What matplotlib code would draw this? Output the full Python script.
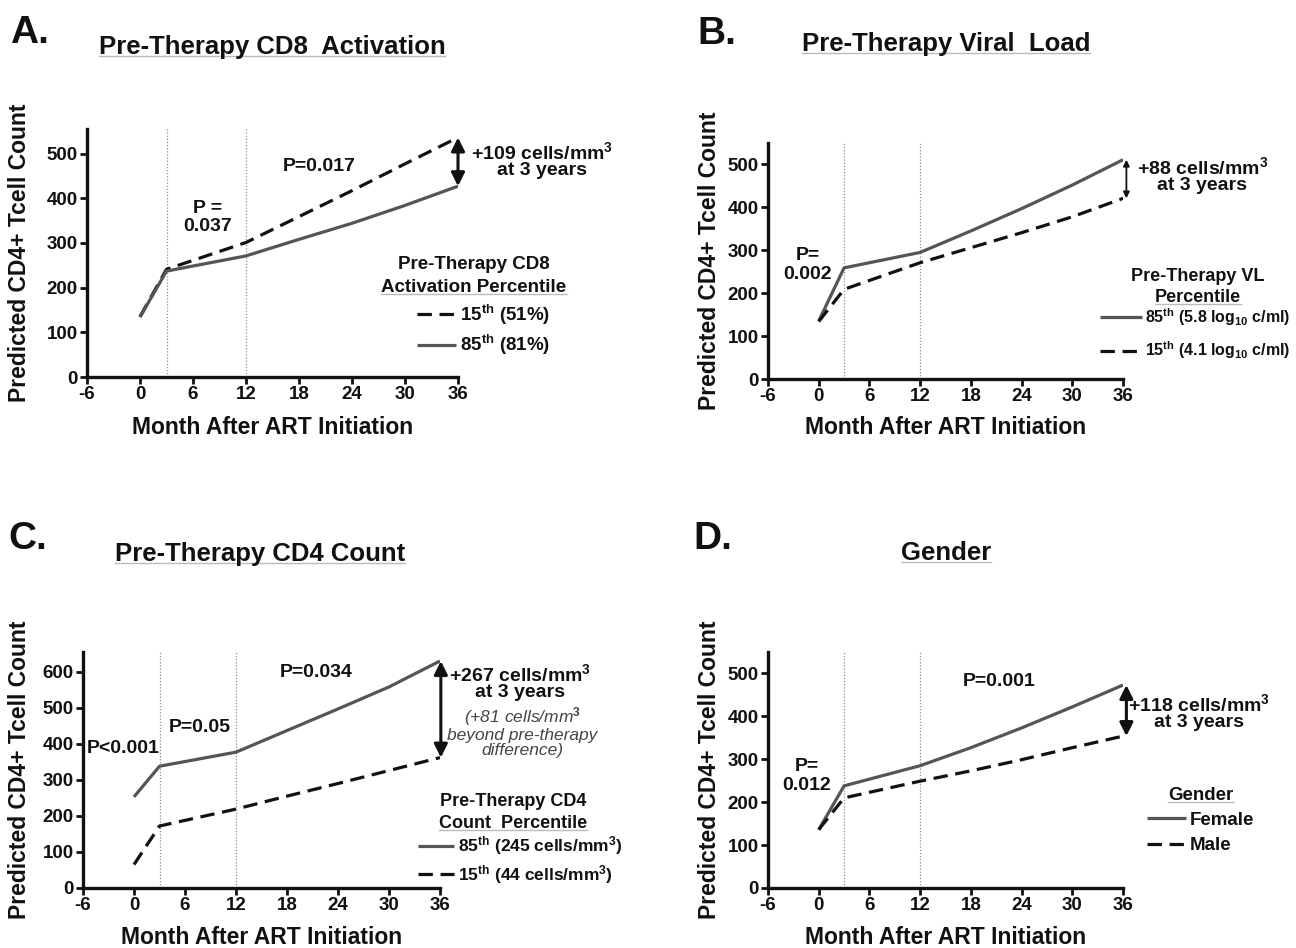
import matplotlib
matplotlib.use("Agg")
import matplotlib.pyplot as plt
from matplotlib.lines import Line2D

FONT = 'Liberation Sans'
plt.rcParams['font.family'] = [FONT, 'DejaVu Sans']
plt.rcParams['font.weight'] = 'bold'
plt.rcParams['mathtext.fontset'] = 'custom'
plt.rcParams['mathtext.rm'] = FONT + ':bold'
plt.rcParams['mathtext.bf'] = FONT + ':bold'
plt.rcParams['mathtext.it'] = FONT + ':italic'

# ---------------- data ----------------
months = [0, 3, 12, 18, 24, 30, 36]
xticks = [-6, 0, 6, 12, 18, 24, 30, 36]

A_p15 = [135, 241, 301, 359, 417, 477, 536]
A_p85 = [134, 237, 271, 308, 344, 384, 427]

B_p85 = [135, 259, 295, 345, 397, 452, 511]
B_p15 = [134, 209, 271, 306, 341, 378, 421]

C_p85 = [253, 338, 377, 437, 497, 558, 630]
C_p15 = [65, 172, 219, 255, 290, 326, 362]

D_female = [136, 238, 285, 327, 373, 422, 473]
D_male = [136, 210, 249, 273, 299, 327, 354]

W, H = 1296, 948
fig = plt.figure(figsize=(W / 100, H / 100), dpi=100)
fig.patch.set_facecolor('white')

SOLID = dict(color='#555555', lw=2.3, linestyle='-', solid_capstyle='butt')
DASH = dict(color='#111111', lw=2.3, linestyle=(0, (4.5, 2.4)), dash_capstyle='butt')

S_TICK = 13.5
S_LAB = 16.5
S_TITLE = 18.5
S_LET = 28
S_ANN = 14
S_LEG = 13.5
INK = '#111111'


def fx(px):
    return px / W


def fy(py):
    return 1 - py / H


def make_axes(l, b, r, t, ytop, yticks):
    ax = fig.add_axes([fx(l), fy(b), (r - l) / W, (b - t) / H])
    ax.set_xlim(-6, 36)
    ax.set_ylim(0, ytop)
    ax.set_xticks(xticks)
    ax.set_yticks(yticks)
    ax.set_xticklabels([str(v) for v in xticks])
    ax.set_yticklabels([str(v) for v in yticks])
    for s in ['top', 'right']:
        ax.spines[s].set_visible(False)
    for s in ['left', 'bottom']:
        ax.spines[s].set_linewidth(2.4)
        ax.spines[s].set_color(INK)
    ax.tick_params(direction='out', length=5, width=2, labelsize=S_TICK, pad=1.5, colors=INK)
    for lab in ax.get_xticklabels() + ax.get_yticklabels():
        lab.set_fontweight('bold')
    ax.set_facecolor('none')
    for xv in (3, 12):
        ax.axvline(xv, color='#a08878', lw=0.9, linestyle=(0, (1, 1.5)), zorder=1)
    return ax


underlines = []


def ftext(x, y, s, size, va='baseline', ul=False, **kw):
    t = fig.text(fx(x), fy(y), s, ha='center', va=va, fontsize=size,
                 fontweight='bold', color=INK, **kw)
    if ul:
        underlines.append(t)
    return t


def panel(letter, lpos, title, tpos, rect, ytop, yticks, ylab_x, xlab_y):
    l, b, r, t = rect
    ax = make_axes(l, b, r, t, ytop, yticks)
    fig.text(fx(lpos[0]), fy(lpos[1]), letter, ha='left', va='baseline', fontsize=S_LET,
             fontweight='bold', color=INK)
    ftext(tpos[0], tpos[1], title, S_TITLE, ul=True)
    fig.text(fx(ylab_x), fy((b + t) / 2), 'Predicted CD4+ Tcell Count', rotation=90,
             ha='center', va='center', fontsize=S_LAB, fontweight='bold', color=INK)
    fig.text(fx((l + r) / 2), fy(xlab_y), 'Month After ART Initiation', ha='center',
             va='center', fontsize=S_LAB, fontweight='bold', color=INK)
    return ax


def arrow(ax, x, y0, y1, lw=2.0, ms=16):
    ax.annotate('', xy=(x, y1), xytext=(x, y0),
                arrowprops=dict(arrowstyle='<|-|>', lw=lw, color=INK,
                                mutation_scale=ms, shrinkA=0, shrinkB=0),
                annotation_clip=False)


def txt(ax, x, y, s, size=S_ANN, **kw):
    kw.setdefault('ha', 'center')
    kw.setdefault('va', 'center')
    kw.setdefault('fontweight', 'bold')
    kw.setdefault('color', INK)
    return ax.text(x, y, s, fontsize=size, clip_on=False, **kw)


def legend(ax, handles, labels, title_lines, title_cx, title_ys, left_px, entry_ys,
           size=S_LEG, tsize=None, spacing=0.4, hl=2.1):
    tsize = tsize or size
    for i, (line, yy) in enumerate(zip(title_lines, title_ys)):
        ftext(title_cx, yy, line, tsize, va='baseline', ul=(i == len(title_lines) - 1))
    lg = ax.legend(handles, labels, frameon=False, fontsize=size,
                   loc='center left',
                   bbox_to_anchor=(fx(left_px), fy(sum(entry_ys) / len(entry_ys))),
                   bbox_transform=fig.transFigure, handlelength=hl, handletextpad=0.2,
                   labelspacing=spacing, borderpad=0, borderaxespad=0)
    for tx in lg.get_texts():
        tx.set_fontweight('bold')
        tx.set_color(INK)
    return lg


TH = r'$^{\mathbf{th}}$'

# ---------------- Panel A ----------------
axA = panel('A.', (10, 43), 'Pre-Therapy CD8  Activation', (272, 54),
            (87, 377, 458, 129), 555, [0, 100, 200, 300, 400, 500], 20, 428)
hA1, = axA.plot(months, A_p15, **DASH)
hA2, = axA.plot(months, A_p85, **SOLID)
arrow(axA, 36, A_p85[-1], A_p15[-1], lw=2.2, ms=20)
txt(axA, 20.3, 472, 'P=0.017')
txt(axA, 7.6, 357, 'P =\n0.037', linespacing=1.15)
txt(axA, 45.5, 486, '+109 cells/mm$^{3}$\nat 3 years', linespacing=0.92)
legend(axA, [hA1, hA2], ['15' + TH + ' (51%)', '85' + TH + ' (81%)'],
       ['Pre-Therapy CD8', 'Activation Percentile'], 474, [269, 292], 417, [316, 344],
       spacing=0.35)

# ---------------- Panel B ----------------
axB = panel('B.', (697, 44), 'Pre-Therapy Viral  Load', (946, 51),
            (768, 379, 1123, 143), 550, [0, 100, 200, 300, 400, 500], 709, 428)
hB1, = axB.plot(months, B_p85, **SOLID)
hB2, = axB.plot(months, B_p15, **DASH)
arrow(axB, 36.4, B_p15[-1], B_p85[-1], lw=1.3, ms=9)
txt(axB, -1.3, 265, 'P=\n0.002', linespacing=1.15)
txt(axB, 45.4, 475, '+88 cells/mm$^{3}$\nat 3 years', linespacing=0.92)
legend(axB, [hB1, hB2], ['85' + TH + r' (5.8 log$_{\mathbf{10}}$ c/ml)',
                         '15' + TH + r' (4.1 log$_{\mathbf{10}}$ c/ml)'],
       ['Pre-Therapy VL', 'Percentile'], 1198, [281, 302], 1100, [318, 349],
       size=11.5, tsize=13, spacing=0.75, hl=2.6)

# ---------------- Panel C ----------------
axC = panel('C.', (8, 549), 'Pre-Therapy CD4 Count', (260, 561),
            (83, 888, 440, 652), 655, [0, 100, 200, 300, 400, 500, 600], 20, 937)
hC1, = axC.plot(months, C_p85, **SOLID)
hC2, = axC.plot(months, C_p15, **DASH)
arrow(axC, 36.1, C_p15[-1], C_p85[-1], lw=2.2, ms=20)
txt(axC, -1.3, 386, 'P<0.001')
txt(axC, 7.7, 446, 'P=0.05')
txt(axC, 21.4, 598, 'P=0.034')
txt(axC, 45.4, 572, '+267 cells/mm$^{3}$\nat 3 years', linespacing=0.92)
txt(axC, 45.7, 433, '(+81 cells/mm$^{3}$\nbeyond pre-therapy\ndifference)', size=12.5,
    fontweight='normal', style='italic', color='#444444', linespacing=1.0)
legend(axC, [hC1, hC2], ['85' + TH + ' (245 cells/mm$^{3}$)', '15' + TH + ' (44 cells/mm$^{3}$)'],
       ['Pre-Therapy CD4', 'Count  Percentile'], 513, [806, 828], 418, [846, 874],
       size=12.5, tsize=13, spacing=0.3)

# ---------------- Panel D ----------------
axD = panel('D.', (693, 549), 'Gender', (946, 560),
            (768, 888, 1123, 652), 550, [0, 100, 200, 300, 400, 500], 709, 937)
hD1, = axD.plot(months, D_female, **SOLID)
hD2, = axD.plot(months, D_male, **DASH)
arrow(axD, 36.4, D_male[-1], D_female[-1], lw=2.2, ms=20)
txt(axD, -1.4, 262, 'P=\n0.012', linespacing=1.15)
txt(axD, 21.3, 482, 'P=0.001')
txt(axD, 45.0, 409, '+118 cells/mm$^{3}$\nat 3 years', linespacing=0.92)
legend(axD, [hD1, hD2], ['Female', 'Male'], ['Gender'], 1201, [800], 1147, [820, 846],
       spacing=0.45)

# underline titles
fig.canvas.draw()
r = fig.canvas.get_renderer()
for t in underlines:
    bb = t.get_window_extent(r)
    ybase = t.get_position()[1] * H
    fig.add_artist(Line2D([bb.x0 / W, bb.x1 / W], [(ybase - 2) / H] * 2,
                          transform=fig.transFigure, color='#bbbbbb', lw=1.0))

fig.savefig('out.png', dpi=100, facecolor='white')
